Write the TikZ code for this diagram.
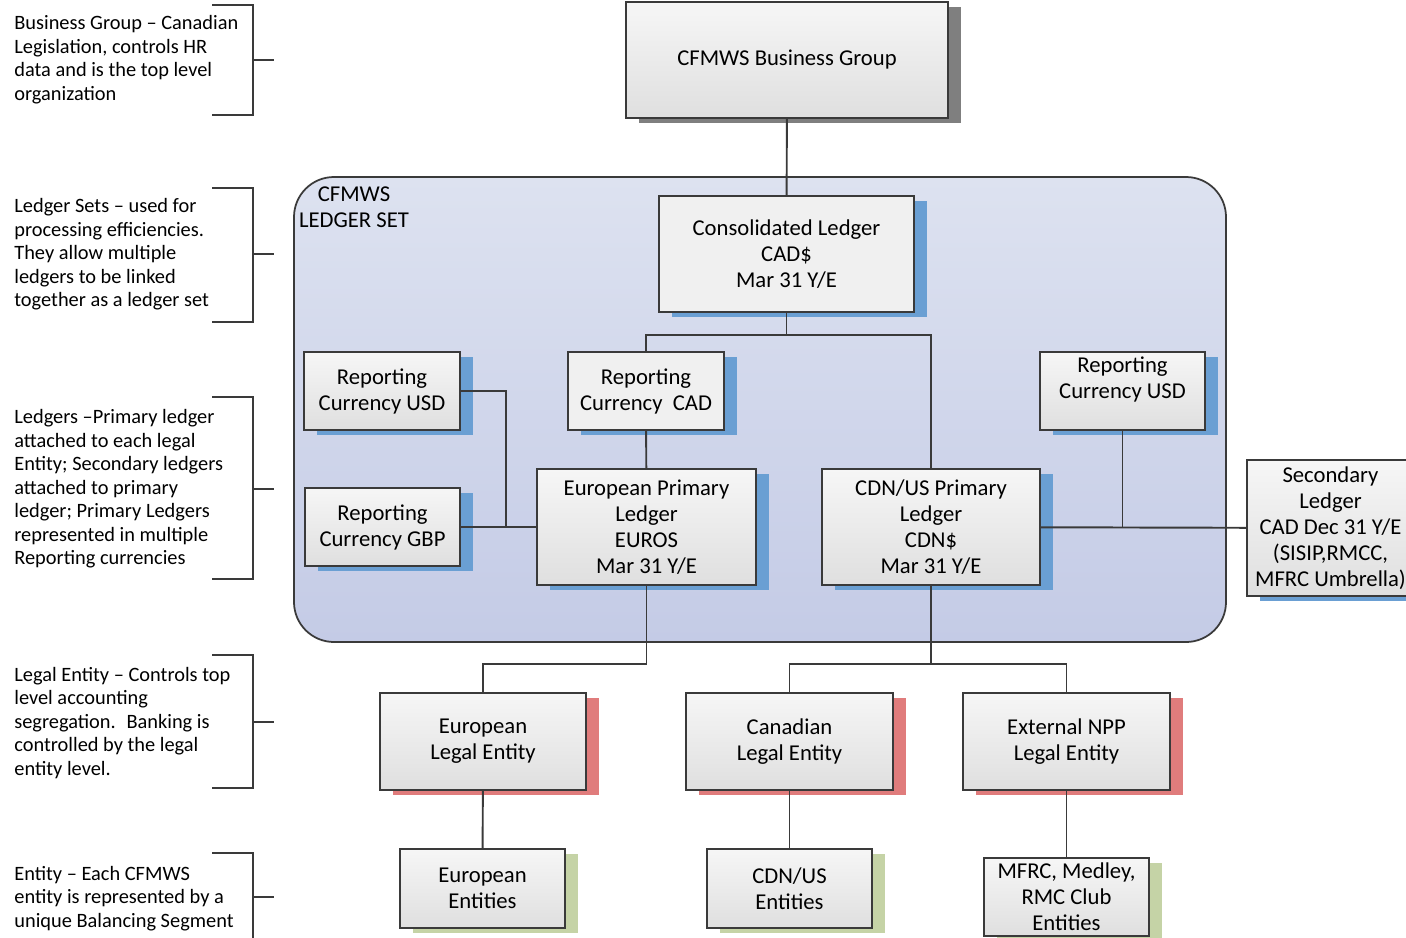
\documentclass[tikz,border=0pt]{standalone}
\usepackage{fontspec}
\setmainfont{Carlito}
\usepackage{xcolor}
\usepackage{tikz}
\usetikzlibrary{shadows, calc}

\definecolor{lineg}{HTML}{3A3A3A}
\definecolor{shblue}{HTML}{6A9FD3}
\definecolor{shred}{HTML}{E07C7C}
\definecolor{shgreen}{HTML}{C5D3A6}
\definecolor{shgray}{HTML}{7F7F7F}
\definecolor{settop}{HTML}{DDE2F0}
\definecolor{setbot}{HTML}{C4CBE6}

\begin{document}
\begin{tikzpicture}[
                x=0.02cm, y=-0.02cm,
                font=\fontsize{12.9}{14.8}\selectfont,
                box/.style={rectangle, draw=lineg, line width=1pt, align=center, inner sep=2pt,
                    top color=gray!7, bottom color=gray!25},
                flatbox/.style={box, top color=gray!12, bottom color=gray!12},
                blueshadow/.style={general shadow={fill=shblue, shadow xshift=0.26cm, shadow yshift=-0.1cm}},
                redshadow/.style={general shadow={fill=shred, shadow xshift=0.26cm, shadow yshift=-0.1cm}},
                greenshadow/.style={general shadow={fill=shgreen, shadow xshift=0.26cm, shadow yshift=-0.1cm}},
                grayshadow/.style={general shadow={fill=shgray, shadow xshift=0.26cm, shadow yshift=-0.1cm}},
                note/.style={anchor=west, align=left, inner sep=0pt, font=\fontsize{11.6}{13.4}\selectfont},
                link/.style={draw=lineg, line width=1.1pt}
            ]
                \clip (0,0) rectangle (1406,937);

                % Ledger set frame
                \path[draw=lineg, line width=1pt, rounded corners=0.8cm, top color=settop, bottom color=setbot]
                    (294,177) rectangle (1226,642);
                \node[align=center, inner sep=0pt] (lsname) at (354,207) {CFMWS\\LEDGER SET};

                % Hierarchy nodes
                \node[box, grayshadow, minimum width=6.44cm, minimum height=2.32cm] (bg) at (787,60) {CFMWS Business Group};
                \node[flatbox, blueshadow, minimum width=5.1cm, minimum height=2.32cm] (cons) at (786.5,254) {Consolidated Ledger\\CAD\$\\Mar 31 Y/E};
                \node[box, blueshadow, minimum width=3.12cm, minimum height=1.56cm] (rcusdl) at (382,391) {Reporting\\Currency USD};
                \node[flatbox, blueshadow, minimum width=3.12cm, minimum height=1.56cm] (rccad) at (646,391) {Reporting\\Currency~~CAD};
                \node[box, blueshadow, minimum width=3.1cm, minimum height=1.56cm] (rcgbp) at (382.5,527) {Reporting\\Currency GBP};
                \node[box, blueshadow, minimum width=3.3cm, minimum height=1.56cm] (rcusdr) at (1122.5,391) {Reporting\\Currency USD\\\phantom{X}};
                \node[box, blueshadow, minimum width=4.38cm, minimum height=2.32cm] (eurpl) at (646.5,527) {European Primary\\Ledger\\EUROS\\Mar 31 Y/E};
                \node[box, blueshadow, minimum width=4.36cm, minimum height=2.32cm] (cdnpl) at (931,527) {CDN/US Primary\\Ledger\\CDN\$\\Mar 31 Y/E};
                \node[box, blueshadow, minimum width=3.34cm, minimum height=2.72cm] (second) at (1330.5,528) {Secondary\\Ledger\\CAD Dec 31 Y/E\\(SISIP,RMCC,\\MFRC Umbrella)};

                \node[box, redshadow, minimum width=4.12cm, minimum height=1.94cm] (eurle) at (483,741.5) {European\\Legal Entity};
                \node[box, redshadow, minimum width=4.14cm, minimum height=1.94cm] (canle) at (789.5,741.5) {Canadian\\Legal Entity};
                \node[box, redshadow, minimum width=4.14cm, minimum height=1.94cm] (extle) at (1066.5,741.5) {External NPP\\Legal Entity};

                \node[box, greenshadow, minimum width=3.3cm, minimum height=1.58cm] (eurent) at (482.5,888.5) {European\\Entities};
                \node[box, greenshadow, minimum width=3.3cm, minimum height=1.58cm] (cdnent) at (789.5,888.5) {CDN/US\\Entities};
                \node[box, greenshadow, minimum width=3.3cm, minimum height=1.56cm] (mfrc) at (1066.5,897) {MFRC, Medley,\\RMC Club\\Entities};

                % Connectors
                \path[link] (bg) -- (cons);
                \path[link] (cons.south) -- ++(0,22) -| (rccad.north);
                \path[link] (cons.south) -- ++(0,22) -| (cdnpl.north);
                \path[link] (rccad) -- (eurpl);
                \path[link] (rcusdl.east) -- ++(45,0) |- (eurpl.west);
                \path[link] (rcgbp) -- (eurpl);
                \path[link] (cdnpl) -- (second);
                \path[link] (rcusdr) -- (rcusdr |- cdnpl);
                \path[link] (eurpl.south) -- ++(0,78) -| (eurle.north);
                \path[link] (cdnpl.south) -- ++(0,78) -| (canle.north);
                \path[link] (cdnpl.south) -- ++(0,78) -| (extle.north);
                \path[link] (eurle) -- (eurent);
                \path[link] (canle) -- (cdnent);
                \path[link] (extle) -- (mfrc);

                % Notes
                \node[note] (nbg) at (14,59.5) {Business Group -- Canadian\\Legislation, controls HR\\data and is the top level\\organization};
                \node[note] (nls) at (14,254.5) {Ledger Sets -- used for\\processing efficiencies.\\They allow multiple\\ledgers to be linked\\together as a ledger set};
                \node[note] (nled) at (14,489) {Ledgers --Primary ledger\\attached to each legal\\Entity; Secondary ledgers\\attached to primary\\ledger; Primary Ledgers\\represented in multiple\\Reporting currencies};
                \node[note] (nle) at (14,723) {Legal Entity -- Controls top\\level accounting\\segregation.~ Banking is\\controlled by the legal\\entity level.};
                \node[note] (nent) at (14,898.5) {Entity -- Each CFMWS\\entity is represented by a\\unique Balancing Segment};

                % Brackets
                \draw[lineg, line width=0.9pt] (212,5) -- (253,5) -- (253,115) -- (212,115) (253,60) -- (274,60);
                \draw[lineg, line width=0.9pt] (212,188) -- (253,188) -- (253,322) -- (212,322) (253,254) -- (274,254);
                \draw[lineg, line width=0.9pt] (212,397) -- (253,397) -- (253,579) -- (212,579) (253,489) -- (274,489);
                \draw[lineg, line width=0.9pt] (212,655) -- (253,655) -- (253,788) -- (212,788) (253,722) -- (274,722);
                \draw[lineg, line width=0.9pt] (212,853) -- (253,853) -- (253,945) (253,897) -- (274,897);
            \end{tikzpicture}
\end{document}
